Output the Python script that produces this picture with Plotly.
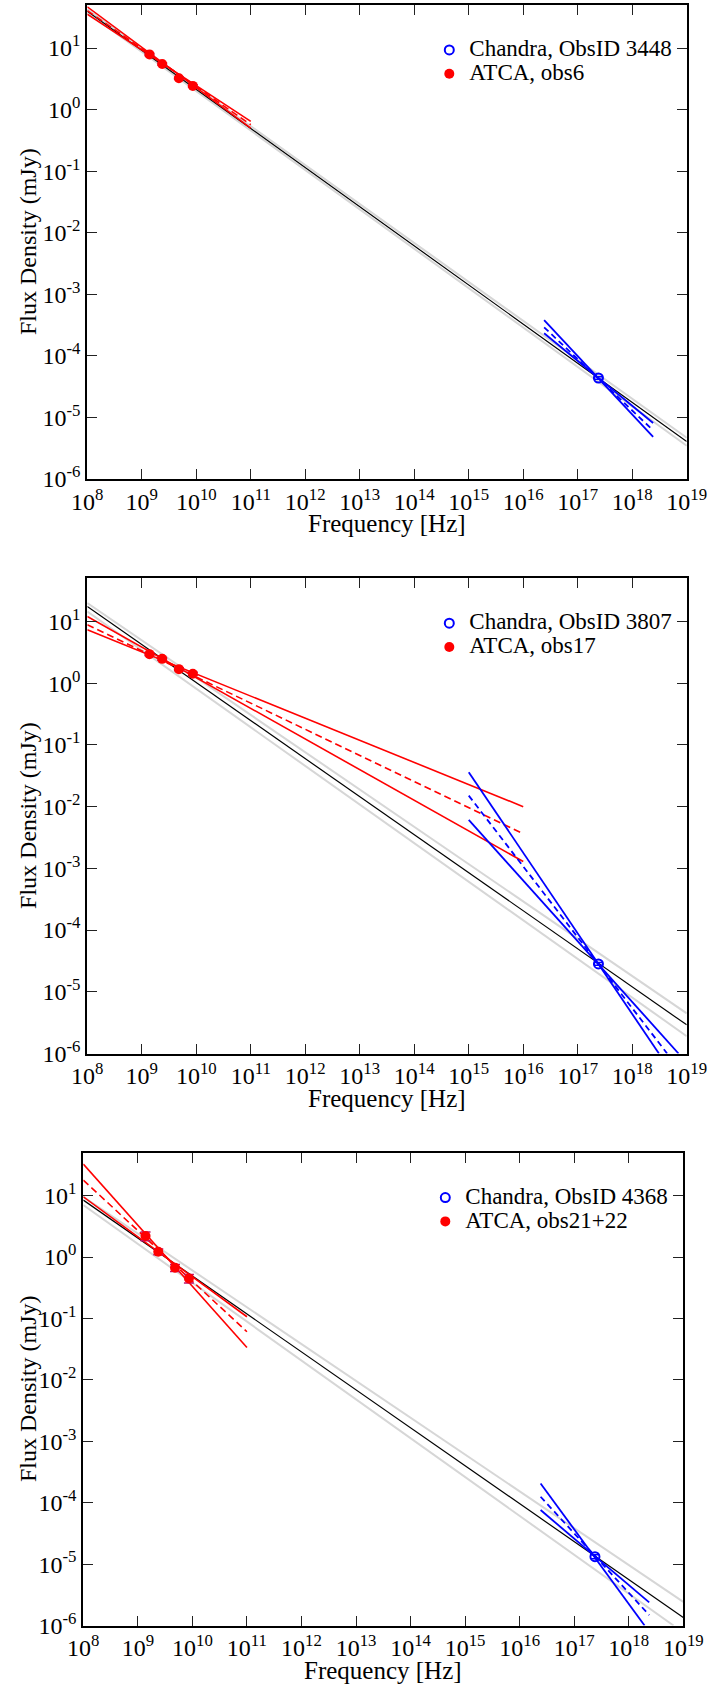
import plotly.graph_objects as go

# ---------------- data ----------------
RADIO_FREQ = [1.384e9, 2.368e9, 4.8e9, 8.64e9]
XRAY_FREQ = [2.4e17]

LEGEND_XRAY = ["Chandra, ObsID 3448", "Chandra, ObsID 3807", "Chandra, ObsID 4368"]
LEGEND_RADIO = ["ATCA, obs6", "ATCA, obs17", "ATCA, obs21+22"]

# panel 1
P1_RADIO_FLUX = [7.9, 5.5, 3.24, 2.43]
P1_RADIO_ERR = [0.3, 0.2, 0.12, 0.1]
P1_XRAY_FLUX = [4.37e-5]
P1_XRAY_ERR = [0.2e-5]
P1_BLACK = ([1e8, 1e19], [39.8, 4.07e-6])
P1_GRAY = [([1e8, 1e19], [42.7, 4.68e-6]), ([1e8, 1e19], [38.0, 3.47e-6])]
P1_RED_SOLID = [([1e8, 1e11], [46.8, 0.501]), ([1e8, 1e11], [35.5, 0.646])]
P1_RED_DASH = ([1e8, 1e11], [40.7, 0.569])
P1_BLUE_SOLID = [([2.42e16, 2.42e18], [3.82e-4, 4.83e-6]), ([2.42e16, 2.42e18], [2.33e-4, 8.13e-6])]
P1_BLUE_DASH = ([2.42e16, 2.42e18], [2.91e-4, 6.18e-6])

# panel 2
P2_RADIO_FLUX = [2.96, 2.48, 1.69, 1.42]
P2_RADIO_ERR = [0.15, 0.12, 0.09, 0.08]
P2_XRAY_FLUX = [2.83e-5]
P2_XRAY_ERR = [0.15e-5]
P2_BLACK = ([1e8, 1e19], [17.5, 2.91e-6])
P2_GRAY = [([1e8, 1e19], [19.9, 4.47e-6]), ([1e8, 1e19], [14.5, 1.91e-6])]
P2_RED_SOLID = [([1e8, 1e16], [12.05, 1.29e-3]), ([1e8, 1e16], [7.33, 1.0e-2])]
P2_RED_DASH = ([1e8, 1e16], [8.85, 3.63e-3])
P2_BLUE_SOLID = [([1e15, 3.09e18], [3.62e-2, 1e-6]), ([1e15, 7.08e18], [6.11e-3, 1e-6])]
P2_BLUE_DASH = ([1e15, 4.37e18], [1.51e-2, 1e-6])

# panel 3
P3_RADIO_FLUX = [2.2, 1.22, 0.67, 0.45]
P3_RADIO_ERR = [0.35, 0.13, 0.09, 0.07]
P3_XRAY_FLUX = [1.32e-5]
P3_XRAY_ERR = [0.1e-5]
P3_BLACK = ([1e8, 1e19], [8.47, 1.35e-6])
P3_GRAY = [([1e8, 1e19], [9.59, 2.43e-6]), ([1e8, 6.61e18], [7.03, 1e-6])]
P3_RED_SOLID = [([1e8, 1e11], [32.7, 3.38e-2]), ([1e8, 1e11], [9.59, 0.1067])]
P3_RED_DASH = ([1e8, 1e11], [17.95, 6.08e-2])
P3_BLUE_SOLID = [([2.42e16, 1.95e18], [2.06e-4, 1e-6]), ([2.42e16, 2.37e18], [7.59e-5, 2.38e-6])]
P3_BLUE_DASH = ([2.42e16, 2.37e18], [1.25e-4, 1.48e-6])

X_TICK_EXP = list(range(8, 20))
Y_TICK_EXP = list(range(-6, 2))

# ---------------- layout geometry ----------------
W, H = 712, 1690
FONT = "Liberation Serif, DejaVu Serif, Times New Roman, serif"
RED = "#ff0000"
BLUE = "#0000ff"
GRAY = "#d6d6d6"

# pixel boxes: (left, right, top, bottom)
BOXES = [(87.3, 686.7, 5.0, 479.0), (87.3, 686.7, 578.3, 1053.5), (83.3, 683.3, 1152.7, 1625.5)]

panels = [
    dict(radio=P1_RADIO_FLUX, rerr=P1_RADIO_ERR, xray=P1_XRAY_FLUX, xerr=P1_XRAY_ERR, black=P1_BLACK,
         gray=P1_GRAY, red_s=P1_RED_SOLID, red_d=P1_RED_DASH, blue_s=P1_BLUE_SOLID, blue_d=P1_BLUE_DASH),
    dict(radio=P2_RADIO_FLUX, rerr=P2_RADIO_ERR, xray=P2_XRAY_FLUX, xerr=P2_XRAY_ERR, black=P2_BLACK,
         gray=P2_GRAY, red_s=P2_RED_SOLID, red_d=P2_RED_DASH, blue_s=P2_BLUE_SOLID, blue_d=P2_BLUE_DASH),
    dict(radio=P3_RADIO_FLUX, rerr=P3_RADIO_ERR, xray=P3_XRAY_FLUX, xerr=P3_XRAY_ERR, black=P3_BLACK,
         gray=P3_GRAY, red_s=P3_RED_SOLID, red_d=P3_RED_DASH, blue_s=P3_BLUE_SOLID, blue_d=P3_BLUE_DASH),
]


def legend_label(s):
    return f"<span style='font-size:23px'>{s}</span>"


fig = go.Figure()
annotations = []
layout = {}

for i, p in enumerate(panels):
    n = i + 1
    xa = "x" if n == 1 else f"x{n}"
    ya = "y" if n == 1 else f"y{n}"
    lg = "legend" if n == 1 else f"legend{n}"

    def line(fy, color, width, dash="solid"):
        fig.add_trace(go.Scatter(x=fy[0], y=fy[1], mode="lines", xaxis=xa, yaxis=ya,
                                 line=dict(color=color, width=width, dash=dash),
                                 showlegend=False, hoverinfo="skip"))

    for g in p["gray"]:
        line(g, GRAY, 2.0)
    line(p["black"], "black", 1.2)
    for r in p["red_s"]:
        line(r, RED, 1.6)
    line(p["red_d"], RED, 1.6, "7px,4px")
    for b in p["blue_s"]:
        line(b, BLUE, 1.8)
    line(p["blue_d"], BLUE, 1.8, "6px,4px")

    fig.add_trace(go.Scatter(
        x=XRAY_FREQ, y=p["xray"], mode="markers", xaxis=xa, yaxis=ya, legend=lg,
        name=legend_label(LEGEND_XRAY[i]),
        marker=dict(symbol="circle-open", size=9, color=BLUE, line=dict(width=2, color=BLUE)),
        error_y=dict(type="data", array=p["xerr"], color=BLUE, thickness=1.5, width=4)))
    fig.add_trace(go.Scatter(
        x=RADIO_FREQ, y=p["radio"], mode="markers", xaxis=xa, yaxis=ya, legend=lg,
        name=legend_label(LEGEND_RADIO[i]),
        marker=dict(symbol="circle", size=10, color=RED),
        error_y=dict(type="data", array=p["rerr"], color="#c0106a", thickness=1.5, width=5)))

    l, r, t, b = BOXES[i]
    xd = [l / W, r / W]
    yd = [1 - b / H, 1 - t / H]
    common = dict(showline=True, linecolor="black", linewidth=2, mirror="allticks",
                  ticks="inside", ticklen=10, tickwidth=1.2, tickcolor="#222222",
                  showgrid=False, zeroline=False, type="log", automargin=False,
                  tickfont=dict(family=FONT, size=24, color="black"))
    layout["xaxis" if n == 1 else f"xaxis{n}"] = dict(
        common, domain=xd, anchor=ya, range=[8, 19],
        tickvals=[10.0 ** e for e in X_TICK_EXP],
        ticktext=[f"10<sup>{e}</sup>" for e in X_TICK_EXP])
    layout["yaxis" if n == 1 else f"yaxis{n}"] = dict(
        common, domain=yd, anchor=xa, range=[-6, 1.7],
        tickvals=[10.0 ** e for e in Y_TICK_EXP],
        ticktext=[f"10<sup>{e}</sup>" for e in Y_TICK_EXP])

    layout[lg] = dict(x=(l + 342) / W, y=1 - (t + 28) / H, xanchor="left", yanchor="top",
                      bgcolor="rgba(0,0,0,0)", borderwidth=0,
                      font=dict(family=FONT, size=16, color="black"),
                      tracegroupgap=0, itemclick=False)

    annotations.append(dict(text="Frequency [Hz]", x=(l + r) / 2 / W, y=1 - (b + 45) / H,
                            xref="paper", yref="paper", showarrow=False, xanchor="center",
                            yanchor="middle", font=dict(family=FONT, size=25, color="black")))
    annotations.append(dict(text="Flux Density (mJy)", x=28 / W, y=1 - (t + b) / 2 / H,
                            xref="paper", yref="paper", showarrow=False, textangle=-90,
                            xanchor="center", yanchor="middle",
                            font=dict(family=FONT, size=24, color="black")))

fig.update_layout(width=W, height=H, margin=dict(l=0, r=0, t=0, b=0),
                  paper_bgcolor="white", plot_bgcolor="white",
                  annotations=annotations, **layout)

fig.write_html("out.html")
